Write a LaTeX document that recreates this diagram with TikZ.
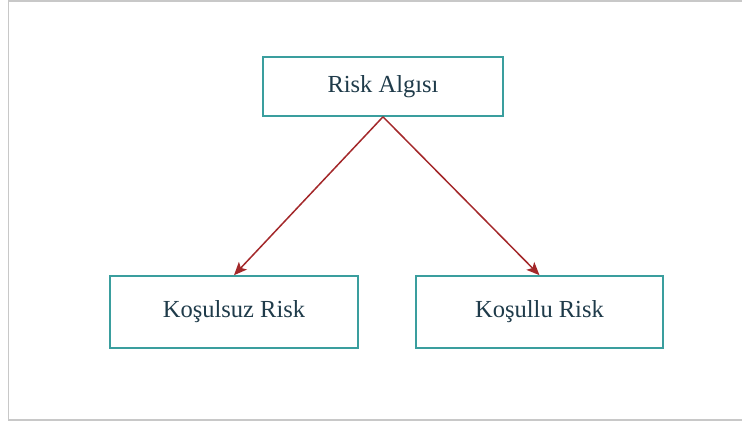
\documentclass[tikz,border=0pt]{standalone}
\usepackage{fontspec}
\setmainfont{Liberation Serif}
\usetikzlibrary{arrows.meta}
\definecolor{boxteal}{HTML}{3A9E9E}
\definecolor{txtdark}{HTML}{1F3B4A}
\definecolor{arrred}{HTML}{A3282A}
\definecolor{framegray}{HTML}{C8C8C8}
\tikzset{
  conceptbox/.style={draw=boxteal, line width=1.6pt, fill=white, text=txtdark,
    font=\fontsize{24.5}{28}\selectfont, inner sep=0pt, anchor=center},
  linkarrow/.style={draw=arrred, line width=1.5pt, -{Stealth[length=13pt,width=11pt,inset=3pt]}}
}
\begin{document}
\begin{tikzpicture}[x=1pt,y=-1pt]
\useasboundingbox (0,0) rectangle (742,421);
\draw[framegray, line width=1.5pt] (742,0.75) -- (8.5,0.75) -- (8.5,420) -- (742,420);
\node[conceptbox, minimum width=240pt, minimum height=59pt] (top) at (383,86.5) {Risk Algısı};
\node[conceptbox, minimum width=248pt, minimum height=72pt] (left) at (234,312) {Koşulsuz Risk};
\node[conceptbox, minimum width=247pt, minimum height=72pt] (right) at (539.5,312) {Koşullu Risk};
\draw[linkarrow] (top.south) -- (left.north);
\draw[linkarrow] (top.south) -- (right.north);
\end{tikzpicture}
\end{document}
